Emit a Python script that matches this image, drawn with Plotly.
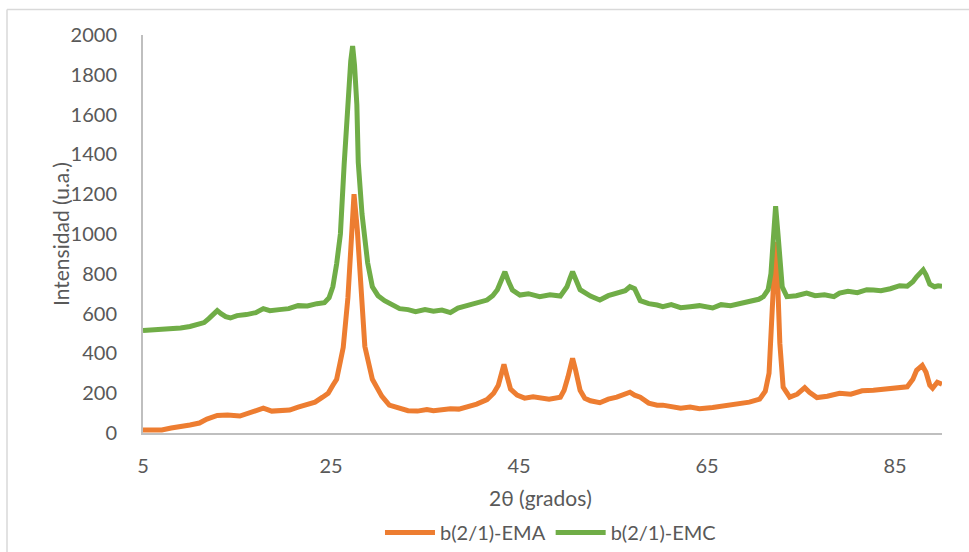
import plotly.graph_objects as go

# b(2/1)-EMA (orange)
ema_x = [5, 6, 7, 8, 9, 10, 11, 11.8, 12.9, 14, 15.3, 16.3, 17.2, 17.8, 18.7, 19.5, 20.6, 21.5, 22.4, 23.3,
         24.1, 24.7, 25.2, 25.6, 26.0, 26.3, 26.8, 27.2, 27.45, 27.8, 28.2, 28.6, 29.4, 30.4, 31.2, 32.3,
         33.2, 34.2, 35.2, 35.9, 36.8, 37.7, 38.6, 39.5, 40.5, 41.6, 42.3, 42.8, 43.1, 43.4, 43.7, 44.1,
         44.8, 45.6, 46.5, 47.2, 48.2, 49.4, 49.8, 50.2, 50.5, 50.7, 51.0, 51.5, 52.0, 52.6, 53.6, 54.5,
         55.4, 56.2, 56.8, 57.3, 57.9, 58.8, 59.7, 60.3, 61.2, 62.2, 63.2, 64.2, 65.6, 66.5, 67.5, 68.5,
         69.5, 70.6, 71.2, 71.6, 71.9, 72.1, 72.3, 72.5, 72.75, 73.1, 73.8, 74.6, 75.4, 75.9, 76.7, 77.8,
         79.1, 80.3, 81.5, 82.7, 83.8, 85, 86.3, 86.9, 87.3, 87.9, 88.3, 88.7, 89.0, 89.5, 90]
ema_y = [15, 18, 15, 25, 30, 40, 50, 70, 88, 90, 85, 100, 110, 125, 110, 112, 115, 130, 140, 155,
         180, 200, 240, 270, 360, 430, 680, 1010, 1200, 1020, 685, 435, 270, 185, 140, 125,
         112, 110, 118, 112, 118, 122, 120, 132, 145, 168, 200, 240, 300, 345, 290, 220,
         190, 175, 182, 176, 170, 180, 215, 280, 345, 375, 320, 215, 175, 162, 152, 170,
         180, 195, 205, 190, 180, 150, 140, 140, 130, 125, 130, 122, 128, 135, 145, 150,
         155, 170, 210, 300, 550, 800, 960, 780, 450, 230, 180, 195, 228, 205, 178, 185,
         200, 195, 212, 215, 220, 225, 232, 270, 315, 340, 305, 240, 225, 255, 245]

# b(2/1)-EMC (green)
emc_x = [5, 6, 7, 8, 9, 10, 11, 11.5, 12, 12.5, 12.9, 13.3, 13.8, 14.3, 15, 16, 17, 17.8, 18.5, 19.5,
         20.5, 21.5, 22.5, 23.5, 24.3, 24.8, 25.2, 25.6, 26.0, 26.4, 26.8, 27.1, 27.3, 27.5, 27.75, 27.9,
         28.3, 28.9, 29.4, 30, 30.7, 31.5, 32.3, 33.2, 34, 35, 35.9, 36.8, 37.7, 38.5, 39.5, 40.5, 41.6,
         42.2, 42.7, 43.1, 43.5, 43.9, 44.3, 45.1, 46, 47.2, 48.3, 49.4, 50.1, 50.4, 50.7, 51.1, 51.5,
         52.6, 53.6, 54.5, 55.4, 56.3, 56.8, 57.3, 57.9, 58.8, 59.7, 60.3, 61.2, 62.2, 63.2, 64.2, 65.6,
         66.5, 67.5, 68.5, 69.5, 70.5, 71, 71.5, 71.8, 72.05, 72.3, 72.55, 72.8, 73.0, 73.5, 74.5, 75.6,
         76.5, 77.5, 78.5, 79.1, 80, 81, 82, 82.7, 83.5, 84.5, 85.5, 86.3, 86.9, 87.3, 87.7, 88.0, 88.3,
         88.7, 89.2, 89.6, 90]
emc_y = [515, 518, 520, 522, 528, 535, 545, 555, 575, 600, 615, 600, 585, 578, 590, 595, 605, 625, 615, 620,
         625, 640, 638, 650, 655, 680, 735, 850, 1000, 1350, 1690, 1870, 1945, 1850, 1650, 1360,
         1100, 855, 735, 690, 665, 645, 625, 620, 610, 620, 612, 618, 605, 628, 640, 655, 668,
         690, 720, 765, 810, 760, 718, 693, 700, 685, 695, 688, 735, 775, 810, 765, 720,
         688, 668, 690, 703, 715, 735, 725, 665, 650, 643, 635, 645, 630, 635, 640, 628,
         645, 640, 650, 660, 672, 685, 720, 800, 1000, 1140, 1000, 820, 735, 685, 690, 703,
         690, 695, 685, 703, 712, 705, 720, 718, 715, 725, 740, 738, 760, 785, 810, 820, 795,
         748, 735, 740, 738]

x_ticks = [5, 25, 45, 65, 85]

FONT = "Lato"
GREY = "#595959"

fig = go.Figure()
fig.add_trace(go.Scatter(x=ema_x, y=ema_y, mode="lines", name="b(2/1)-EMA",
                         line=dict(color="#ED7D31", width=5)))
fig.add_trace(go.Scatter(x=emc_x, y=emc_y, mode="lines", name="b(2/1)-EMC",
                         line=dict(color="#70AD47", width=5)))

fig.update_layout(
    width=969, height=552,
    margin=dict(l=143, r=27, t=35, b=119, autoexpand=False),
    paper_bgcolor="white", plot_bgcolor="white",
    font=dict(family=FONT, size=20, color=GREY),
    showlegend=True,
    legend=dict(orientation="h", x=0.51, xanchor="center", y=-0.25, yanchor="middle",
                font=dict(size=20, color=GREY), itemwidth=50),
    xaxis=dict(range=[5, 90], tickvals=x_ticks, showgrid=False, zeroline=False,
               showline=True, linecolor="#BFBFBF", linewidth=2, ticks="",
               ticklabelstandoff=14, tickfont=dict(size=20, color=GREY)),
    yaxis=dict(range=[0, 2000], dtick=200, showgrid=False, zeroline=False,
               showline=True, linecolor="#BFBFBF", linewidth=2, ticks="",
               ticklabelstandoff=20, tickfont=dict(size=20, color=GREY)),
    annotations=[
        dict(text="2θ (grados)", xref="paper", yref="paper", x=0.497, y=-0.161,
             xanchor="center", yanchor="middle", showarrow=False,
             font=dict(size=21, color=GREY)),
        dict(text="Intensidad (u.a.)", xref="paper", yref="paper", x=(60 - 143) / 799, y=0.5,
             xanchor="center", yanchor="middle", textangle=-90, showarrow=False,
             font=dict(size=21, color=GREY)),
    ],
    shapes=[
        dict(type="line", xref="paper", yref="paper",
             x0=(7 - 143) / 799, x1=(969 - 143) / 799,
             y0=(433 - 9.5) / 398, y1=(433 - 9.5) / 398,
             line=dict(color="#D9D9D9", width=1.5)),
        dict(type="line", xref="paper", yref="paper",
             x0=(7 - 143) / 799, x1=(7 - 143) / 799,
             y0=(433 - 9.5) / 398, y1=(433 - 560) / 398,
             line=dict(color="#D9D9D9", width=1.5)),
    ],
)

fig.write_html("out.html")
